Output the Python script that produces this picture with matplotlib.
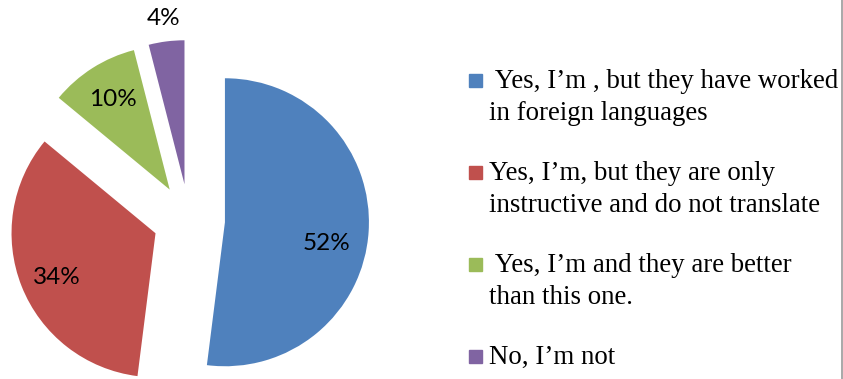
import numpy as np
import matplotlib
matplotlib.use("Agg")
import matplotlib.pyplot as plt
from matplotlib.patches import Rectangle
from matplotlib.lines import Line2D

# Survey answers and their shares (%)
answers = [
    " Yes, I\u2019m , but they have worked\nin foreign languages",
    "Yes, I\u2019m, but they are only\ninstructive and do not translate",
    " Yes, I\u2019m and they are better\nthan this one.",
    "No, I\u2019m not",
]
shares = [52, 34, 10, 4]
colors = ["#4F81BD", "#C0504D", "#9BBB59", "#8064A2"]

W, H = 843, 379
fig = plt.figure(figsize=(W / 100, H / 100), dpi=100)

# pie area: centre at (189, 220) px, radius 144 px
cx, cy, r = 189, 220, 144
ax = fig.add_axes([0, 0, 420 / W, 1])
wedges, texts, pcts = ax.pie(
    shares, colors=colors, startangle=90, counterclock=False,
    explode=[0.25] * 4, autopct="%1.0f%%", pctdistance=0.74,
    textprops=dict(family="Lato", fontsize=17.5, color="black"),
)
ax.set_xlim(-cx / r, (420 - cx) / r)
ax.set_ylim(-(H - cy) / r, cy / r)

# push the label positions a bit like the office layout does
lbl_dist = [0.72, 0.75, 0.74, 1.16]
lbl_shift = [-8.0, 2.5, 0.0, 0.0]
for w, t, d, s in zip(wedges, pcts, lbl_dist, lbl_shift):
    mid = np.deg2rad((w.theta1 + w.theta2) / 2)
    ox, oy = 0.25 * np.cos(mid), 0.25 * np.sin(mid)
    a = mid + np.deg2rad(s)
    t.set_position((ox + d * np.cos(a), oy + d * np.sin(a)))

# legend on the right, one text per line
y_base = [88, 180, 272, 364]
line_gap = 32
for lab, col, yb in zip(answers, colors, y_base):
    fig.patches.append(Rectangle((469 / W, 1 - (yb - 1) / H), 13 / W, 13 / H,
                                 transform=fig.transFigure, color=col))
    for k, line in enumerate(lab.split("\n")):
        fig.text(489 / W, 1 - (yb + k * line_gap) / H, line,
                 family="Liberation Serif", fontsize=19.4,
                 va="baseline", ha="left")

fig.add_artist(Line2D([841.5 / W, 841.5 / W], [0, 1], transform=fig.transFigure,
                      color="#9a9a9a", lw=1.2))

fig.savefig("out.png", dpi=100)
